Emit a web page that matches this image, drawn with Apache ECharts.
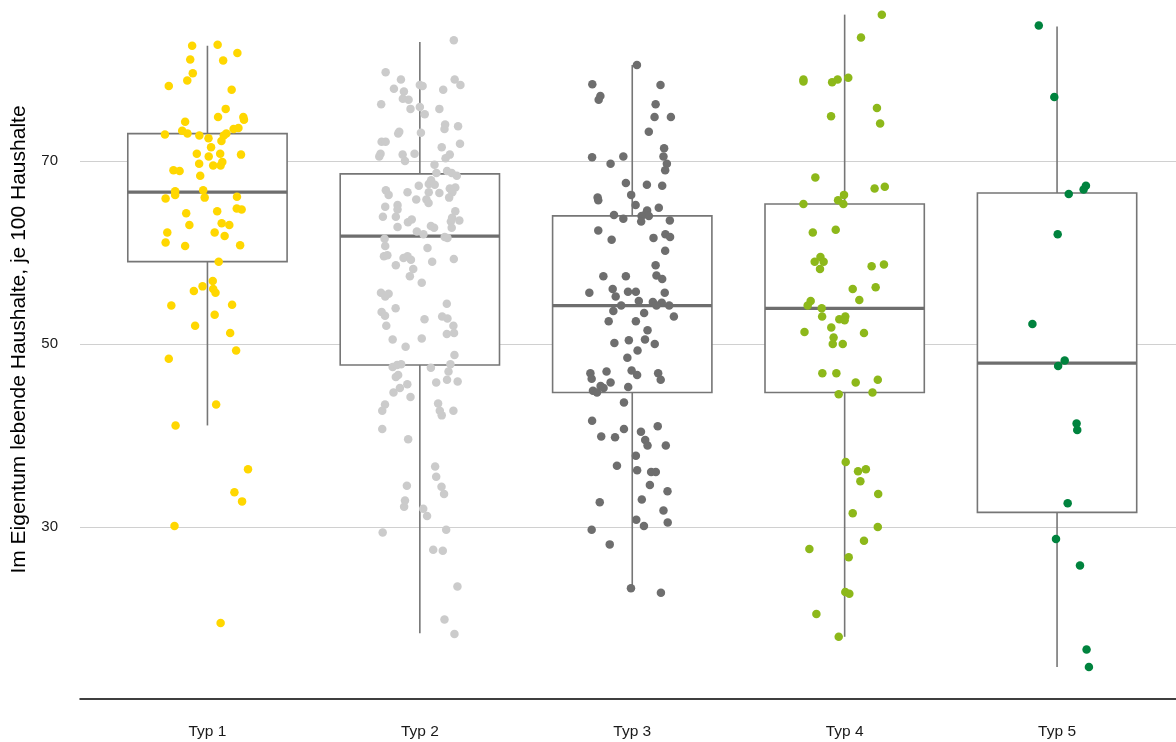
<!DOCTYPE html>
<html>
<head>
<meta charset="utf-8">
<script src="https://cdn.jsdelivr.net/npm/echarts@6/dist/echarts.min.js"></script>
<style>
html,body{margin:0;padding:0;background:#fff;}
#chart{width:1176px;height:742px;}
</style>
</head>
<body>
<div id="chart"></div>
<script>
// ---- Data ----
const categories = ['Typ 1', 'Typ 2', 'Typ 3', 'Typ 4', 'Typ 5'];
const yTicks = [30, 50, 70];
const yTitle = 'Im Eigentum lebende Haushalte, je 100 Haushalte';

// Box statistics: [min, q1, median, q3, max]
const box1 = [41.1, 59.0, 66.6, 73.0, 82.6];
const box2 = [18.4, 47.7, 61.8, 68.6, 83.0];
const box3 = [23.3, 44.7, 54.2, 64.0, 80.5];
const box4 = [18.0, 44.7, 53.9, 65.3, 86.0];
const box5 = [14.7, 31.6, 47.9, 66.5, 84.7];

// Jittered points: [horizontal jitter (category units), value]
const typ1Points = [[-0.072,82.6],[0.048,82.7],[0.141,81.8],[-0.081,81.1],[0.074,81.0],[-0.069,79.6],[-0.095,78.8],[-0.182,78.2],[0.114,77.8],[0.086,75.7],[0.050,74.8],[0.169,74.8],[0.172,74.5],[-0.105,74.3],[0.146,73.6],[0.123,73.5],[-0.119,73.3],[-0.094,73.0],[-0.200,72.9],[0.089,73.0],[0.077,72.8],[-0.038,72.8],[0.005,72.5],[0.066,72.2],[0.017,71.5],[-0.050,70.8],[0.060,70.8],[0.158,70.7],[0.006,70.5],[0.070,69.9],[-0.039,69.7],[0.027,69.5],[0.062,69.5],[-0.160,69.0],[-0.131,68.9],[-0.034,68.4],[-0.152,66.7],[-0.020,66.8],[-0.152,66.3],[-0.197,65.9],[-0.013,66.0],[0.139,66.1],[0.138,64.8],[0.161,64.7],[-0.100,64.3],[0.046,64.5],[-0.085,63.0],[0.067,63.2],[0.103,63.0],[-0.189,62.2],[0.034,62.2],[0.081,61.8],[-0.197,61.1],[-0.105,60.7],[0.154,60.8],[0.053,59.0],[0.025,56.9],[-0.023,56.3],[-0.064,55.8],[0.027,56.0],[0.038,55.6],[-0.170,54.2],[0.116,54.3],[0.034,53.2],[-0.058,52.0],[0.107,51.2],[0.135,49.3],[-0.182,48.4],[0.041,43.4],[-0.150,41.1],[0.191,36.3],[0.127,33.8],[0.163,32.8],[-0.155,30.1],[0.062,19.5]];

const typ2Points = [[0.160,83.2],[-0.161,79.7],[-0.089,78.9],[0.164,78.9],[0.191,78.3],[0.0,78.3],[0.013,78.2],[-0.122,77.9],[-0.075,77.6],[0.110,77.8],[-0.080,76.8],[-0.053,76.7],[-0.182,76.2],[-0.044,75.7],[0.0,75.9],[0.092,75.7],[0.023,75.1],[0.119,74.0],[0.116,73.5],[0.180,73.8],[-0.097,73.2],[-0.102,73.0],[0.005,73.1],[-0.180,72.1],[-0.161,72.1],[0.189,71.9],[0.103,71.5],[-0.185,70.8],[-0.191,70.5],[-0.081,70.7],[-0.070,70.0],[-0.025,70.8],[0.141,70.7],[0.121,70.3],[0.069,69.6],[0.078,68.7],[0.128,68.9],[0.150,68.7],[0.174,68.4],[0.053,67.9],[0.042,67.5],[0.070,67.4],[-0.005,67.3],[-0.160,66.8],[-0.147,66.3],[-0.058,66.6],[0.042,66.6],[0.092,66.5],[0.141,67.0],[0.167,67.1],[0.153,66.6],[0.138,66.0],[-0.017,65.8],[0.031,65.8],[0.041,65.4],[-0.105,65.2],[-0.163,65.0],[-0.105,64.7],[0.167,64.5],[-0.174,63.9],[-0.113,63.9],[-0.056,63.3],[-0.038,63.6],[0.152,63.8],[0.186,63.5],[0.146,63.4],[-0.105,62.8],[0.052,62.9],[0.067,62.7],[0.150,62.7],[-0.014,62.3],[0.017,62.0],[-0.166,61.5],[0.117,61.7],[0.130,61.6],[-0.163,60.7],[-0.169,59.6],[-0.153,59.7],[-0.077,59.4],[-0.058,59.6],[-0.042,59.2],[-0.113,58.6],[0.036,60.5],[0.058,59.0],[0.160,59.3],[-0.031,58.2],[-0.047,57.4],[0.009,56.7],[-0.183,55.6],[-0.147,55.5],[-0.163,55.2],[0.127,54.4],[-0.180,53.5],[-0.164,53.1],[-0.114,53.9],[0.022,52.7],[0.105,53.0],[0.130,52.8],[0.158,52.0],[-0.158,52.0],[0.127,51.1],[0.161,51.2],[-0.128,50.5],[0.009,50.6],[-0.067,49.7],[0.163,48.8],[-0.128,47.5],[-0.107,47.7],[-0.088,47.8],[0.052,47.4],[0.144,47.8],[0.135,47.0],[-0.113,46.4],[-0.102,46.6],[0.128,46.1],[0.077,45.8],[0.178,45.9],[-0.059,45.6],[-0.094,45.2],[-0.124,44.7],[-0.044,44.2],[-0.164,43.4],[-0.177,42.7],[0.086,43.5],[0.094,42.7],[0.103,42.2],[0.158,42.7],[-0.177,40.7],[-0.055,39.6],[0.072,36.6],[0.077,35.5],[0.102,34.4],[0.114,33.6],[-0.061,34.5],[-0.070,32.9],[-0.074,32.2],[0.016,32.0],[0.034,31.2],[-0.175,29.4],[0.124,29.7],[0.063,27.5],[0.108,27.4],[0.177,23.5],[0.116,19.9],[0.163,18.3]];

const typ3Points = [[0.022,80.5],[-0.188,78.4],[0.133,78.3],[-0.150,77.1],[-0.158,76.7],[0.110,76.2],[0.105,74.8],[0.182,74.8],[0.078,73.2],[0.150,71.4],[0.147,70.5],[0.163,69.7],[0.155,69.0],[-0.189,70.4],[-0.042,70.5],[-0.102,69.7],[-0.030,67.6],[0.069,67.4],[0.141,67.3],[-0.163,66.0],[-0.160,65.7],[-0.005,66.3],[0.016,65.2],[0.125,64.9],[0.070,64.6],[0.064,64.2],[0.078,64.0],[-0.086,64.1],[-0.042,63.7],[0.044,64.0],[0.042,63.4],[0.177,63.5],[-0.160,62.4],[-0.097,61.4],[0.100,61.6],[0.156,62.0],[0.178,61.7],[0.155,60.2],[0.110,58.6],[0.114,57.5],[0.141,57.1],[-0.136,57.4],[-0.030,57.4],[-0.202,55.6],[-0.092,56.0],[-0.078,55.2],[-0.020,55.7],[0.017,55.7],[0.153,55.6],[0.031,54.7],[0.097,54.6],[0.139,54.5],[0.114,54.2],[0.174,54.2],[-0.052,54.2],[-0.089,53.6],[0.196,53.0],[0.056,53.4],[-0.111,52.5],[0.017,52.5],[0.072,51.5],[-0.084,50.1],[-0.016,50.4],[0.060,50.5],[0.106,50.0],[0.025,49.3],[-0.023,48.5],[-0.197,46.8],[-0.191,46.2],[-0.121,47.0],[-0.003,47.1],[0.023,46.6],[0.122,46.8],[0.134,46.1],[-0.102,45.8],[-0.149,45.4],[-0.135,45.2],[-0.185,44.9],[-0.166,44.7],[-0.019,45.3],[-0.039,43.6],[-0.189,41.6],[-0.039,40.7],[0.041,40.4],[0.120,41.0],[-0.146,39.9],[-0.081,39.8],[0.061,39.5],[0.072,38.9],[0.158,38.9],[0.017,37.8],[-0.072,36.7],[0.023,36.2],[0.089,36.0],[0.111,36.0],[0.083,34.6],[0.166,33.9],[-0.153,32.7],[0.045,33.0],[0.147,31.8],[0.019,30.8],[0.055,30.1],[0.167,30.5],[-0.191,29.7],[-0.106,28.1],[-0.006,23.3],[0.135,22.8]];

const typ4Points = [[0.175,86.0],[0.077,83.5],[-0.194,78.9],[-0.194,78.7],[-0.059,78.6],[-0.033,78.9],[0.017,79.1],[0.152,75.8],[-0.064,74.9],[0.167,74.1],[-0.138,68.2],[0.141,67.0],[0.189,67.2],[-0.003,66.3],[-0.031,65.7],[-0.006,65.3],[-0.194,65.3],[-0.150,62.2],[-0.042,62.5],[-0.114,59.5],[-0.141,59.0],[-0.099,59.0],[-0.116,58.2],[0.127,58.5],[0.185,58.7],[0.146,56.2],[0.038,56.0],[0.069,54.8],[-0.160,54.7],[-0.174,54.2],[-0.108,53.9],[-0.106,53.0],[-0.025,52.7],[0.003,53.0],[0.0,52.6],[-0.189,51.3],[-0.063,51.8],[0.091,51.2],[-0.052,50.7],[-0.056,50.0],[-0.009,50.0],[-0.105,46.8],[-0.039,46.8],[0.052,45.8],[0.156,46.1],[-0.028,44.5],[0.131,44.7],[0.005,37.1],[0.063,36.1],[0.100,36.3],[0.074,35.0],[0.158,33.6],[0.038,31.5],[0.156,30.0],[0.091,28.5],[-0.166,27.6],[0.019,26.7],[0.003,22.9],[0.022,22.7],[-0.133,20.5],[-0.028,18.0]];

const typ5Points = [[-0.086,84.8],[-0.013,77.0],[0.136,67.3],[0.125,66.9],[0.055,66.4],[0.003,62.0],[-0.116,52.2],[0.036,48.2],[0.005,47.6],[0.092,41.3],[0.095,40.6],[0.050,32.6],[-0.005,28.7],[0.108,25.8],[0.139,16.6],[0.150,14.7]];

const colors = ['#FFD700', '#CBCBCB', '#6E6E6E', '#8DB81A', '#00833E'];

// ---- Build options ----
const boxes = [box1, box2, box3, box4, box5];
const pointSets = [typ1Points, typ2Points, typ3Points, typ4Points, typ5Points];
const boxData = boxes.map((b, i) => [i + 1].concat(b));

const boxColor = '#767676';
const boxWidth = 0.75;
const fontFam = 'Liberation Sans, Arial, sans-serif';

const scatterSeries = pointSets.map((pts, i) => ({
  type: 'scatter',
  name: categories[i],
  data: pts.map(p => [i + 1 + p[0], p[1]]),
  symbol: 'circle',
  symbolSize: 8.5,
  itemStyle: { color: colors[i], opacity: 1 },
  z: 5,
  silent: true
}));

const option = {
  animation: false,
  backgroundColor: '#ffffff',
  textStyle: { fontFamily: fontFam },
  grid: { left: 80, right: 0, top: 0, bottom: 43, containLabel: false },
  xAxis: {
    type: 'value',
    min: 0.4,
    max: 5.56,
    axisLine: { show: true, lineStyle: { color: '#000000', width: 1.5 } },
    axisTick: { show: false },
    splitLine: { show: false },
    axisLabel: {
      customValues: [1, 2, 3, 4, 5],
      formatter: v => categories[Math.round(v) - 1] || '',
      color: '#1a1a1a',
      fontSize: 15.5,
      margin: 25,
      fontFamily: fontFam
    }
  },
  yAxis: {
    type: 'value',
    min: 11.2,
    max: 87.6,
    name: yTitle,
    nameLocation: 'middle',
    nameRotate: 90,
    nameGap: 50,
    nameTextStyle: { fontSize: 21, color: '#000000', fontFamily: fontFam, padding: [0, 0, 0, 20] },
    axisLine: { show: false },
    axisTick: { show: false, customValues: yTicks },
    axisLabel: {
      customValues: yTicks,
      color: '#1a1a1a',
      fontSize: 15,
      margin: 22,
      fontFamily: fontFam
    },
    splitLine: { show: true, lineStyle: { color: '#d0d0d0', width: 1 } }
  },
  series: [{
    type: 'custom',
    data: boxData,
    encode: { x: 0, y: [1, 2, 3, 4, 5] },
    z: 2,
    silent: true,
    renderItem: function (params, api) {
      const x = api.value(0);
      const pMin = api.coord([x, api.value(1)]);
      const pQ1 = api.coord([x, api.value(2)]);
      const pMed = api.coord([x, api.value(3)]);
      const pQ3 = api.coord([x, api.value(4)]);
      const pMax = api.coord([x, api.value(5)]);
      const w = api.size([boxWidth, 0])[0];
      const cx = pMed[0];
      return {
        type: 'group',
        children: [
          { type: 'line', shape: { x1: cx, y1: pMax[1], x2: cx, y2: pQ3[1] }, style: { stroke: boxColor, lineWidth: 1.6 } },
          { type: 'line', shape: { x1: cx, y1: pQ1[1], x2: cx, y2: pMin[1] }, style: { stroke: boxColor, lineWidth: 1.6 } },
          { type: 'rect', shape: { x: cx - w / 2, y: pQ3[1], width: w, height: pQ1[1] - pQ3[1] }, style: { fill: '#ffffff', stroke: boxColor, lineWidth: 1.6 } },
          { type: 'line', shape: { x1: cx - w / 2, y1: pMed[1], x2: cx + w / 2, y2: pMed[1] }, style: { stroke: '#6e6e6e', lineWidth: 3.2 } }
        ]
      };
    }
  }].concat(scatterSeries)
};

const chart = echarts.init(document.getElementById('chart'), null, { renderer: 'canvas' });
chart.setOption(option);
</script>
</body>
</html>
